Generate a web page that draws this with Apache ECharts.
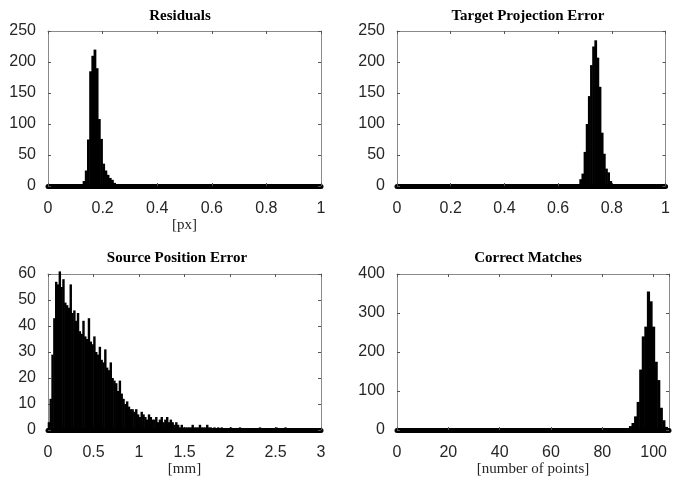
<!DOCTYPE html>
<html>
<head>
<meta charset="utf-8">
<script src="https://cdn.jsdelivr.net/npm/echarts@6/dist/echarts.min.js"></script>
<style>
  html, body { margin: 0; padding: 0; background: #fff; }
  #main { width: 673px; height: 481px; }
</style>
</head>
<body>
<div id="main"></div>
<script>
// Residuals histogram [px] (only non-empty bins)
var residualBinWidth = 0.008;
var residualBins = [0.124, 0.132, 0.140, 0.148, 0.156, 0.164, 0.172, 0.180, 0.188,
    0.196, 0.204, 0.212, 0.220, 0.228, 0.236, 0.244, 0.252, 0.260];
var residualCounts = [2, 8, 25, 75, 185, 210, 220, 190, 108, 76, 36, 25, 18, 13, 10, 5, 3, 1];

// Target projection error histogram
var targetBinWidth = 0.008;
var targetBins = [0.676, 0.684, 0.692, 0.700, 0.708, 0.716, 0.724, 0.732, 0.740,
    0.748, 0.756, 0.764, 0.772, 0.780, 0.788, 0.796, 0.804, 0.812];
var targetCounts = [3, 11, 20, 55, 100, 145, 195, 225, 235, 207, 160, 86, 52, 28, 22, 8, 3, 2];

// Source position error histogram [mm], bins 0.02 wide from 0 to 3
var sourceBinWidth = 0.02;
var sourceCounts = [
    3, 12, 29, 43, 57, 56, 61, 55, 58, 49,
    48, 47, 56, 45, 46, 42, 45, 38, 37, 42,
    36, 35, 43, 34, 33, 36, 30, 29, 32, 27,
    26, 31, 24, 23, 26, 20, 19, 18, 15, 19,
    14, 12, 10, 11, 9, 8, 8, 7, 8, 6,
    5, 7, 6, 5, 4, 6, 5, 4, 4, 5,
    3, 4, 5, 3, 4, 5, 3, 4, 3, 2,
    3, 2, 1, 2, 1, 1, 1, 1, 1, 2,
    1, 1, 1, 2, 1, 1, 1, 2, 1, 1,
    0, 1, 0, 1, 0, 1, 0, 0, 0, 0,
    1, 0, 0, 0, 0, 1, 0, 0, 0, 0,
    0, 0, 0, 0, 0, 0, 1, 0, 0, 0,
    0, 0, 0, 0, 0, 1, 0, 0, 0, 0,
    1, 0, 0, 0, 0, 0, 0, 0, 0, 0,
    0, 0, 0, 0, 0, 0, 0, 0, 0, 0
];

// Correct matches histogram [number of points]
var matchBinWidth = 1;
var matchBins = [89, 90, 91, 92, 93, 94, 95, 96, 97, 98, 99, 100, 101, 102, 103, 104, 105];
var matchCounts = [1, 3, 10, 18, 35, 72, 155, 240, 265, 355, 330, 265, 175, 128, 57, 25, 8];

var titles = ['Residuals', 'Target Projection Error', 'Source Position Error', 'Correct Matches'];
var xNames = ['[px]', '', '[mm]', '[number of points]'];

function pairs(xs, ys) {
    return xs.map(function (x, i) { return [x, ys[i]]; });
}

var sourceBins = sourceCounts.map(function (c, i) {
    return +(sourceBinWidth * i + sourceBinWidth / 2).toFixed(3);
});

var panels = [
    { grid: { left: 48, top: 31, width: 273, height: 155 }, x: [0, 1, 0.2], y: [250, 50],
      data: pairs(residualBins, residualCounts), bin: residualBinWidth, titleX: 180, titleY: 9 },
    { grid: { left: 397, top: 31, width: 272, height: 155 }, x: [0, 1, 0.2], y: [250, 50],
      data: pairs(targetBins, targetCounts), bin: targetBinWidth, titleX: 528, titleY: 9 },
    { grid: { left: 48, top: 274, width: 273, height: 156 }, x: [0, 3, 0.5], y: [60, 10],
      data: pairs(sourceBins, sourceCounts), bin: sourceBinWidth, titleX: 177, titleY: 251 },
    { grid: { left: 397, top: 274, width: 272, height: 156 }, x: [0, 106, 20], y: [400, 100],
      data: pairs(matchBins, matchCounts), bin: matchBinWidth, titleX: 528, titleY: 251, hideMax: true }
];

var textColor = '#262626';
var boxColor = '#8a8a8a';

// histogram bar: one rect per bin, placed through the axis scales
function histBar(binWidth) {
    return function (params, api) {
        var x = api.value(0), y = api.value(1);
        if (!y) return;
        var p0 = api.coord([x - binWidth / 2, y]);
        var p1 = api.coord([x + binWidth / 2, 0]);
        return {
            type: 'rect',
            shape: { x: p0[0] - 0.3, y: p0[1], width: p1[0] - p0[0] + 0.6, height: p1[1] - p0[1] },
            style: { fill: '#000' }
        };
    };
}

var option = {
    animation: false,
    backgroundColor: '#fff',
    title: [],
    grid: [],
    xAxis: [],
    yAxis: [],
    series: []
};

panels.forEach(function (p, i) {
    option.grid.push(p.grid);
    option.title.push({
        text: titles[i],
        left: p.titleX,
        top: p.titleY,
        textAlign: 'center',
        padding: 0,
        textStyle: { fontFamily: 'Liberation Serif', fontWeight: 'bold', fontSize: 15, color: '#000' }
    });
    // bottom x axis (labels) + top x axis (box, ticks only)
    option.xAxis.push({
        gridIndex: i, type: 'value', position: 'bottom',
        min: p.x[0], max: p.x[1], interval: p.x[2],
        name: xNames[i], nameLocation: 'middle', nameGap: 32,
        nameTextStyle: { fontFamily: 'Liberation Serif', fontSize: 15, color: textColor },
        axisLine: { show: true, onZero: false, lineStyle: { color: '#000', width: 5 } },
        axisTick: { show: true, inside: true, length: 3, lineStyle: { color: '#555' } },
        axisLabel: { margin: 15, fontFamily: 'Liberation Sans', fontSize: 16, color: textColor,
            showMaxLabel: !p.hideMax },
        splitLine: { show: false }
    });
    option.xAxis.push({
        gridIndex: i, type: 'value', position: 'top',
        min: p.x[0], max: p.x[1], interval: p.x[2],
        axisLine: { show: true, onZero: false, lineStyle: { color: boxColor, width: 1 } },
        axisTick: { show: true, inside: true, length: 3, lineStyle: { color: '#555' } },
        axisLabel: { show: false },
        splitLine: { show: false }
    });
    // left y axis (labels) + right y axis (box, ticks only)
    option.yAxis.push({
        gridIndex: i, type: 'value', position: 'left',
        min: 0, max: p.y[0], interval: p.y[1],
        axisLine: { show: true, onZero: false, lineStyle: { color: boxColor, width: 1 } },
        axisTick: { show: true, inside: true, length: 3, lineStyle: { color: '#555' } },
        axisLabel: { margin: 12, fontFamily: 'Liberation Sans', fontSize: 16, color: textColor },
        splitLine: { show: false }
    });
    option.yAxis.push({
        gridIndex: i, type: 'value', position: 'right',
        min: 0, max: p.y[0], interval: p.y[1],
        axisLine: { show: true, onZero: false, lineStyle: { color: boxColor, width: 1 } },
        axisTick: { show: true, inside: true, length: 3, lineStyle: { color: '#555' } },
        axisLabel: { show: false },
        splitLine: { show: false }
    });
    option.series.push({
        type: 'custom',
        xAxisIndex: 2 * i,
        yAxisIndex: 2 * i,
        data: p.data,
        renderItem: histBar(p.bin),
        encode: { x: 0, y: 1 },
        silent: true
    });
});

var myChart = echarts.init(document.getElementById('main'));
myChart.setOption(option);
</script>
</body>
</html>
